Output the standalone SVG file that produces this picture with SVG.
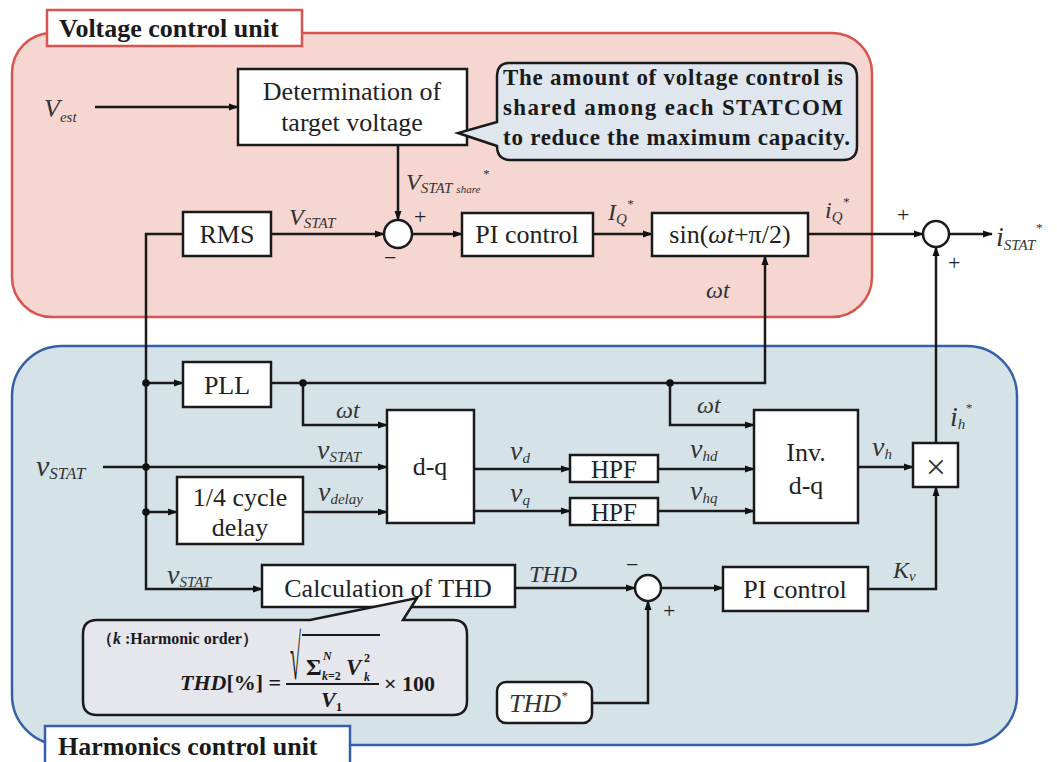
<svg xmlns="http://www.w3.org/2000/svg" width="1057" height="762" viewBox="0 0 1057 762">
  <defs>
    <marker id="ah" markerWidth="10" markerHeight="8" refX="9" refY="4" orient="auto" markerUnits="userSpaceOnUse">
      <path d="M0,0.5 L10,4 L0,7.5 z" fill="#111"/>
    </marker>
    <style>
      .blk{fill:#fff;stroke:#1a1a1a;stroke-width:2.5}
      .w{stroke:#1a1a1a;stroke-width:2.5;fill:none}
      .a{marker-end:url(#ah)}
      .t{font-family:'Liberation Serif','Times New Roman',serif;font-size:26px;fill:#222;text-anchor:middle}
      .v{font-family:'Liberation Serif','Times New Roman',serif;font-style:italic;font-size:24px;fill:#333}
      .sb{font-size:15px}
      .sp{font-size:13px}
      .pm{font-family:'Liberation Serif','Times New Roman',serif;font-size:22px;fill:#222}
      .dot{fill:#111}
      .ttl{font-family:'Liberation Serif','Times New Roman',serif;font-weight:bold;font-size:26px;fill:#1a1a1a}
      .note{font-family:'Liberation Serif','Times New Roman',serif;font-weight:bold;font-size:23px;fill:#1a1a1a}
      .fm{font-family:'Liberation Serif','Times New Roman',serif;font-weight:bold;fill:#1a1a1a}
    </style>
  </defs>

  <rect width="1057" height="762" fill="#fff"/>

  <!-- control unit panels -->
  <g id="voltage-unit">
    <rect x="12" y="33" width="860" height="284" rx="40" fill="#f5d6d1" stroke="#d9534f" stroke-width="2.5"/>
    <rect x="47" y="10" width="255" height="36" fill="#fff" stroke="#d9534f" stroke-width="2.5"/>
    <text class="ttl" x="59" y="37">Voltage control unit</text>
  </g>
  <g id="harmonics-unit">
    <rect x="12" y="346" width="1005" height="399" rx="50" fill="#d5e3e8" stroke="#3560a8" stroke-width="2.5"/>
    <rect x="45" y="726" width="305" height="40" fill="#fff" stroke="#3560a8" stroke-width="2.5"/>
    <text class="ttl" x="58" y="755">Harmonics control unit</text>
  </g>

  <!-- connectors -->
  <g id="connectors">
    <path class="w a" d="M95,107 H238"/>
    <path class="w a" d="M398,145 V220"/>
    <path class="w a" d="M271,234 H384"/>
    <path class="w a" d="M183,234 H146 V589 H262"/>
    <path class="w a" d="M412,234 H462"/>
    <path class="w a" d="M593,234 H652"/>
    <path class="w a" d="M808,234 H923"/>
    <path class="w a" d="M949,234 H992"/>
    <path class="w a" d="M936,443 V247"/>
    <path class="w a" d="M146,383 H183"/>
    <path class="w a" d="M271,383 H765 V256"/>
    <path class="w a" d="M303,383 V425 H387"/>
    <path class="w a" d="M670,383 V425 H754"/>
    <path class="w a" d="M103,467 H387"/>
    <path class="w a" d="M146,512 H177"/>
    <path class="w a" d="M303,512 H387"/>
    <path class="w a" d="M474,469 H570"/>
    <path class="w a" d="M474,511 H570"/>
    <path class="w a" d="M658,469 H754"/>
    <path class="w a" d="M658,511 H754"/>
    <path class="w a" d="M858,467 H913"/>
    <path class="w a" d="M868,589 H936 V487"/>
    <path class="w a" d="M515,588 H635"/>
    <path class="w a" d="M592,703 H648 V601"/>
    <path class="w a" d="M661,588 H723"/>
    <circle class="dot" cx="146" cy="383" r="3.8"/>
    <circle class="dot" cx="146" cy="467" r="3.8"/>
    <circle class="dot" cx="146" cy="512" r="3.8"/>
    <circle class="dot" cx="303" cy="383" r="3.8"/>
    <circle class="dot" cx="670" cy="383" r="3.8"/>
  </g>

  <!-- signal labels -->
  <g id="labels">
    <text class="v" x="44" y="117" style="font-size:26px">V<tspan class="sb" dy="5">est</tspan></text>
    <text class="v" x="406" y="190">V<tspan class="sb" dy="3">STAT</tspan><tspan font-size="11" dx="4">share</tspan><tspan class="sp" dy="-15" dx="2">*</tspan></text>
    <text class="pm" x="414" y="224">+</text>
    <text class="pm" x="384" y="265">−</text>
    <text class="v" x="289" y="225">V<tspan class="sb" dy="3">STAT</tspan></text>
    <text class="v" x="608" y="220">I<tspan class="sb" dy="4">Q</tspan><tspan class="sp" dy="-16">*</tspan></text>
    <text class="v" x="825" y="218">i<tspan class="sb" dy="4">Q</tspan><tspan class="sp" dy="-16">*</tspan></text>
    <text class="pm" x="897" y="222">+</text>
    <text class="pm" x="948" y="270">+</text>
    <text class="v" x="996" y="246" style="font-size:28px">i<tspan class="sb" dy="4">STAT</tspan><tspan class="sp" dy="-18">*</tspan></text>
    <text class="v" x="706" y="298">ωt</text>
    <text class="v" x="336" y="418">ωt</text>
    <text class="v" x="697" y="413">ωt</text>
    <text class="v" x="36" y="476" style="font-size:30px">v<tspan class="sb" dy="3" style="font-size:17px">STAT</tspan></text>
    <text class="v" x="317" y="459" style="font-size:28px">v<tspan class="sb" dy="3">STAT</tspan></text>
    <text class="v" x="318" y="501" style="font-size:28px">v<tspan class="sb" dy="3">delay</tspan></text>
    <text class="v" x="510" y="460" style="font-size:28px">v<tspan class="sb" dy="3">d</tspan></text>
    <text class="v" x="510" y="502" style="font-size:28px">v<tspan class="sb" dy="3">q</tspan></text>
    <text class="v" x="690" y="458" style="font-size:28px">v<tspan class="sb" dy="3">hd</tspan></text>
    <text class="v" x="690" y="500" style="font-size:28px">v<tspan class="sb" dy="3">hq</tspan></text>
    <text class="v" x="872" y="456" style="font-size:28px">v<tspan class="sb" dy="3">h</tspan></text>
    <text class="v" x="950" y="426" style="font-size:28px">i<tspan class="sb" dy="3">h</tspan><tspan class="sp" dy="-17">*</tspan></text>
    <text class="v" x="893" y="578">K<tspan class="sb" dy="3">v</tspan></text>
    <text class="v" x="167" y="584" style="font-size:28px">v<tspan class="sb" dy="3">STAT</tspan></text>
    <text class="v" x="529" y="582">THD</text>
    <text class="pm" x="626" y="572">−</text>
    <text class="pm" x="663" y="618">+</text>
  </g>

  <!-- voltage control blocks -->
  <g id="target-voltage">
    <rect class="blk" x="238" y="69" width="229" height="76"/>
    <text class="t" x="352" y="100">Determination of</text>
    <text class="t" x="352" y="131">target voltage</text>
  </g>
  <g id="note-share">
    <path d="M509,63 H843 Q857,63 857,77 V146 Q857,160 843,160 H511 Q497,160 497,146 L458,133 L497,122 V77 Q497,63 509,63 Z" fill="#dfe6ee" stroke="#1a1a1a" stroke-width="2.5"/>
    <text class="note" x="503" y="85" textLength="340" lengthAdjust="spacing">The amount of voltage control is</text>
    <text class="note" x="503" y="115" textLength="340" lengthAdjust="spacing">shared  among  each  STATCOM</text>
    <text class="note" x="503" y="145" textLength="347" lengthAdjust="spacing">to reduce the maximum capacity.</text>
  </g>
  <g id="sum-v">
    <circle cx="398" cy="234" r="14" fill="#fff" stroke="#1a1a1a" stroke-width="2.5"/>
  </g>
  <g id="rms">
    <rect class="blk" x="183" y="212" width="88" height="44"/>
    <text class="t" x="227" y="243">RMS</text>
  </g>
  <g id="pi-v">
    <rect class="blk" x="462" y="213" width="131" height="43"/>
    <text class="t" x="527" y="243">PI control</text>
  </g>
  <g id="sine">
    <rect class="blk" x="652" y="213" width="156" height="43"/>
    <text class="t" x="730" y="243">sin(<tspan font-style="italic">ωt</tspan>+π/2)</text>
  </g>
  <g id="sum-out">
    <circle cx="936" cy="234" r="13" fill="#fff" stroke="#1a1a1a" stroke-width="2.5"/>
  </g>

  <!-- harmonics control blocks -->
  <g id="pll">
    <rect class="blk" x="183" y="362" width="88" height="45"/>
    <text class="t" x="227" y="394">PLL</text>
  </g>
  <g id="delay">
    <rect class="blk" x="177" y="477" width="126" height="67"/>
    <text class="t" x="240" y="506">1/4 cycle</text>
    <text class="t" x="240" y="536">delay</text>
  </g>
  <g id="dq">
    <rect class="blk" x="387" y="410" width="87" height="113"/>
    <text class="t" x="430" y="475">d-q</text>
  </g>
  <g id="hpf-d">
    <rect class="blk" x="570" y="455" width="88" height="27"/>
    <text class="t" x="614" y="478" style="font-size:25px">HPF</text>
  </g>
  <g id="hpf-q">
    <rect class="blk" x="570" y="498" width="88" height="27"/>
    <text class="t" x="614" y="521" style="font-size:25px">HPF</text>
  </g>
  <g id="inv-dq">
    <rect class="blk" x="754" y="410" width="104" height="113"/>
    <text class="t" x="806" y="461">Inv.</text>
    <text class="t" x="806" y="494">d-q</text>
  </g>
  <g id="mult">
    <rect class="blk" x="913" y="443" width="45" height="44"/>
    <text class="t" x="936" y="479" style="font-size:36px;fill:#333">×</text>
  </g>
  <g id="thd-calc">
    <rect class="blk" x="262" y="565" width="253" height="42"/>
    <text class="t" x="388" y="597">Calculation of THD</text>
  </g>
  <g id="sum-thd">
    <circle cx="648" cy="588" r="13" fill="#fff" stroke="#1a1a1a" stroke-width="2.5"/>
  </g>
  <g id="pi-h">
    <rect class="blk" x="723" y="567" width="145" height="44"/>
    <text class="t" x="795" y="598">PI control</text>
  </g>
  <g id="thd-ref">
    <rect class="blk" x="497" y="682" width="95" height="41" rx="9"/>
    <text class="v" x="509" y="712" style="font-size:26px">THD<tspan class="sp" dy="-12">*</tspan></text>
  </g>
  <g id="note-thd">
    <path d="M97,620 H310 L417,598 L403,620 H453 Q467,620 467,634 V701 Q467,715 453,715 H97 Q83,715 83,701 V634 Q83,620 97,620 Z" fill="#e5e7ed" stroke="#1a1a1a" stroke-width="2.5"/>
    <text class="fm" x="97" y="644" font-size="16">（<tspan font-style="italic">k</tspan> :Harmonic order）</text>
    <text class="fm" x="180" y="690" font-size="22"><tspan font-style="italic">THD</tspan>[%] =</text>
    <line x1="286" y1="684" x2="379" y2="684" stroke="#1a1a1a" stroke-width="2"/>
    <!-- radical sign stretched over the numerator -->
    <text class="fm" transform="translate(290,679) scale(0.62,2.0)" font-size="32" font-weight="normal">√</text>
    <line x1="302" y1="635" x2="380" y2="635" stroke="#1a1a1a" stroke-width="2"/>
    <text class="fm" x="306" y="675" font-size="24">Σ</text>
    <text class="fm" x="323" y="660" font-size="12" font-style="italic">N</text>
    <text class="fm" x="322" y="680" font-size="12"><tspan font-style="italic">k</tspan>=2</text>
    <text class="fm" x="346" y="675" font-size="23" font-style="italic">V</text>
    <text class="fm" x="364" y="662" font-size="12">2</text>
    <text class="fm" x="364" y="681" font-size="12" font-style="italic">k</text>
    <text class="fm" x="321" y="707" font-size="22" font-style="italic">V<tspan font-size="13" font-style="normal" dy="4">1</tspan></text>
    <text class="fm" x="384" y="691" font-size="22">× 100</text>
  </g>
</svg>
